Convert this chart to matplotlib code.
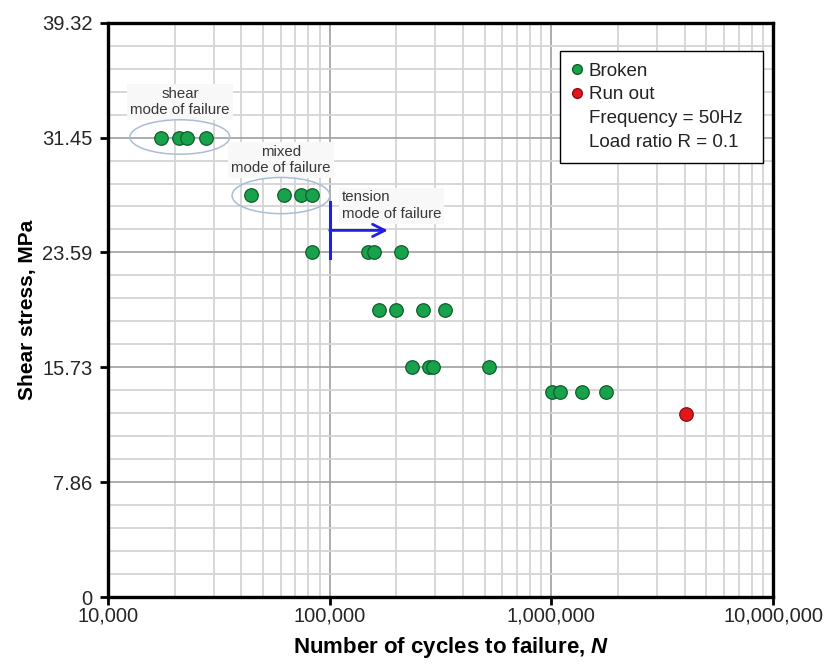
import matplotlib
matplotlib.use("Agg")
import matplotlib.pyplot as plt
from matplotlib.lines import Line2D
from matplotlib.patches import Ellipse
from matplotlib.ticker import FixedLocator, NullFormatter

plt.rcParams["font.family"] = ["Liberation Sans", "DejaVu Sans"]
plt.rcParams["mathtext.fontset"] = "custom"
plt.rcParams["mathtext.bfit"] = "Liberation Sans:bold:italic"

# broken specimens: stress level (MPa) and cycles to failure
broken_stress = [31.45] * 4 + [27.52] * 4 + [23.59] * 4 + [19.66] * 4 + [15.73] * 4 + [14.06] * 4
broken_cycles = [
    17350, 20840, 22650, 27580,
    44030, 62200, 74260, 82960,
    83550, 149300, 158400, 209800,
    166900, 199100, 262700, 331200,
    235900, 281300, 293300, 524400,
    1003000, 1093000, 1374000, 1763000,
]

# run-out specimen
runout_stress = [12.55]
runout_cycles = [4035000]

ytick_values = [0, 7.864, 15.728, 23.592, 31.456, 39.32]
ytick_labels = ["0", "7.86", "15.73", "23.59", "31.45", "39.32"]
xtick_values = [1e4, 1e5, 1e6, 1e7]
xtick_labels = ["10,000", "100,000", "1,000,000", "10,000,000"]

green = "#17a24b"
green_edge = "#0e5e2c"
red = "#e3161b"
red_edge = "#8a0f12"

fig = plt.figure(figsize=(8.29, 6.64), dpi=100)
ax = fig.add_axes([0.1303, 0.1009, 0.8022, 0.8649])

ax.set_xscale("log")
ax.set_xlim(1e4, 1e7)
ax.set_ylim(0, 39.32)

# grid
ax.set_xticks(xtick_values)
ax.set_xticklabels(xtick_labels)
ax.xaxis.set_minor_locator(FixedLocator([m * 10 ** d for d in range(4, 7) for m in range(2, 10)]))
ax.xaxis.set_minor_formatter(NullFormatter())
ax.set_yticks(ytick_values)
ax.set_yticklabels(ytick_labels)
ax.yaxis.set_minor_locator(FixedLocator([i * 39.32 / 25 for i in range(26)]))
ax.grid(which="major", color="#a6a6a6", linewidth=1.3, zorder=0)
ax.grid(which="minor", color="#d4d4d4", linewidth=1.3, zorder=0)
ax.set_axisbelow(True)

ax.tick_params(which="major", direction="out", length=6, width=2, labelsize=14.5,
               labelcolor="#262626")
ax.tick_params(axis="x", which="major", pad=1)
ax.tick_params(axis="y", which="major", pad=5)
ax.tick_params(which="minor", length=0)
for s in ax.spines.values():
    s.set_linewidth(2.4)
    s.set_color("black")

ax.scatter(broken_cycles, broken_stress, s=95, color=green, edgecolor=green_edge,
           linewidth=0.9, zorder=5)
ax.scatter(runout_cycles, runout_stress, s=95, color=red, edgecolor=red_edge,
           linewidth=0.9, zorder=5)

# failure mode annotations
box = dict(facecolor="#f8f8f8", edgecolor="none", pad=2)
ax.text(21100, 33.9, "shear\nmode of failure", ha="center", va="center",
        fontsize=10.8, color="#383838", linespacing=1.2, bbox=box, zorder=3)
ax.text(60300, 29.9, "mixed\nmode of failure", ha="center", va="center",
        fontsize=10.8, color="#383838", linespacing=1.2, bbox=box, zorder=3)
ax.text(113600, 26.8, "tension\nmode of failure", ha="left", va="center",
        fontsize=10.8, color="#383838", linespacing=1.2, bbox=box, zorder=3)

ax.add_patch(Ellipse((0.108, 0.801), 0.150, 0.060, transform=ax.transAxes,
                     fill=False, edgecolor="#a9bdd8", linewidth=1.1, zorder=4))
ax.add_patch(Ellipse((0.260, 0.699), 0.147, 0.063, transform=ax.transAxes,
                     fill=False, edgecolor="#a9bdd8", linewidth=1.1, zorder=4))

ax.plot([1e5, 1e5], [23.2, 27.05], color="#1f1fe6", linewidth=2.2, zorder=4)
ax.annotate("", xy=(183000, 25.1), xytext=(1e5, 25.1),
            arrowprops=dict(arrowstyle="->", color="#1f1fe6", lw=2.0,
                            mutation_scale=22, shrinkA=0, shrinkB=0), zorder=4)

ax.set_xlabel("Number of cycles to failure, $\\mathbfit{N}$", fontsize=16,
              fontweight="bold", labelpad=7)
ax.xaxis.label.set_x(0.516)
ax.set_ylabel("Shear stress, MPa", fontsize=15, fontweight="bold", labelpad=4)

handles = [
    Line2D([], [], marker="o", linestyle="none", markersize=7, color=green,
           markeredgecolor=green_edge),
    Line2D([], [], marker="o", linestyle="none", markersize=7, color=red,
           markeredgecolor=red_edge),
    Line2D([], [], linestyle="none"),
    Line2D([], [], linestyle="none"),
]
labels = ["Broken", "Run out", "Frequency = 50Hz", "Load ratio R = 0.1"]
leg = ax.legend(handles, labels, loc="upper left",
                bbox_to_anchor=(0.6797, 0.5, 0.3053, 0.451), mode="expand",
                fontsize=13.5, frameon=True, fancybox=False, framealpha=1,
                edgecolor="black", handlelength=0.6, handletextpad=0.3,
                labelspacing=0.36, borderpad=0.62, borderaxespad=0)
leg.get_frame().set_linewidth(1.0)
for t in leg.get_texts():
    t.set_color("#222222")

fig.savefig("out.png", dpi=100)
